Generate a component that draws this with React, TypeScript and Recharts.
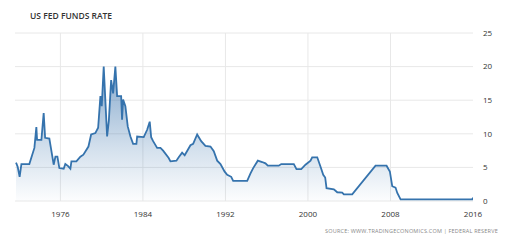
import { AreaChart, Area, XAxis, YAxis, CartesianGrid } from "recharts";

const years = [
  1971.7, 1971.86, 1972.05, 1972.22, 1972.99, 1973.48, 1973.67, 1973.74, 1974.16, 1974.38,
  1974.52, 1974.93, 1975.35, 1975.52, 1975.71, 1975.9, 1976.32, 1976.48, 1976.75, 1976.97,
  1977.07, 1977.55, 1977.94, 1978.23, 1978.72, 1978.98, 1979.39, 1979.66, 1979.88, 1980.01,
  1980.2, 1980.53, 1980.7, 1980.92, 1981.11, 1981.33, 1981.5, 1981.89, 1981.98, 1982.08,
  1982.3, 1982.53, 1982.79, 1983.05, 1983.37, 1983.44, 1984.08, 1984.41, 1984.66, 1984.8,
  1984.99, 1985.38, 1985.7, 1985.96, 1986.5, 1986.67, 1987.25, 1987.47, 1987.8, 1988.05,
  1988.61, 1988.87, 1989.26, 1989.65, 1990.06, 1990.55, 1990.87, 1991.2, 1991.52, 1991.91,
  1992.17, 1992.56, 1992.75, 1994.11, 1994.43, 1994.69, 1995.14, 1995.56, 1995.88, 1996.11,
  1997.17, 1997.41, 1998.63, 1998.89, 1999.35, 1999.76, 2000.25, 2000.41, 2000.9, 2001.22,
  2001.48, 2001.67, 2001.8, 2002.51, 2002.84, 2003.32, 2003.48, 2004.29, 2006.55, 2007.62,
  2007.94, 2008.17, 2008.49, 2008.66, 2008.98, 2015.93, 2016.0,
];

const rates = [
  5.7, 5.1, 3.6, 5.5, 5.5, 7.9, 11.0, 9.1, 9.1, 13.1,
  9.4, 9.3, 5.4, 6.6, 6.6, 4.9, 4.8, 5.5, 5.2, 4.8,
  5.9, 5.9, 6.6, 6.9, 8.1, 9.9, 10.1, 10.9, 15.6, 14.1,
  20.0, 9.6, 12.0, 18.0, 16.0, 20.0, 15.6, 15.6, 12.1, 15.1,
  14.1, 11.1, 9.6, 8.5, 8.5, 9.6, 9.5, 10.6, 11.8, 9.5,
  8.9, 7.9, 7.9, 7.5, 6.4, 5.9, 6.0, 6.5, 7.2, 6.8,
  8.3, 8.5, 9.9, 8.9, 8.2, 8.1, 7.4, 6.0, 5.5, 4.4,
  3.9, 3.6, 3.0, 3.0, 4.1, 4.9, 6.0, 5.8, 5.6, 5.25,
  5.25, 5.5, 5.5, 4.75, 4.75, 5.4, 6.0, 6.5, 6.5, 5.1,
  3.9, 3.5, 1.9, 1.75, 1.3, 1.25, 1.0, 1.0, 5.25, 5.25,
  4.4, 2.2, 2.0, 1.2, 0.25, 0.25, 0.5,
];

const xTicks = [1976, 1984, 1992, 2000, 2008, 2016];
const yTicks = [0, 5, 10, 15, 20, 25];

const data = years.map((year, i) => ({ year, rate: rates[i] }));

const font = "'Open Sans', 'DejaVu Sans', sans-serif";

export default function App() {
  return (
    <div style={{ position: "absolute", left: 0, top: 0, width: 510, height: 244, background: "#fff", fontFamily: font }}>
      <div style={{ position: "absolute", left: 30, top: 10, fontSize: 8.5, fontWeight: 600, color: "#333" }}>
        US FED FUNDS RATE
      </div>
      <AreaChart width={510} height={244} data={data} margin={{ top: 33, right: 7, bottom: 23, left: 15 }}>
        <defs>
          <linearGradient id="fill" x1="0" y1="0" x2="0" y2="1">
            <stop offset="0%" stopColor="#2a68a6" stopOpacity={0.95} />
            <stop offset="60%" stopColor="#2a68a6" stopOpacity={0.35} />
            <stop offset="100%" stopColor="#2a68a6" stopOpacity={0.02} />
          </linearGradient>
        </defs>
        <CartesianGrid stroke="#e8e8e8" strokeWidth={1} verticalValues={[1976, 1984, 1992, 2000, 2008]} />
        <XAxis
          dataKey="year"
          type="number"
          domain={[1971.6, 2016]}
          ticks={xTicks}
          axisLine={false}
          tickLine={false}
          height={20}
          tick={{ fontSize: 8, fill: "#333", fontFamily: font }}
          tickMargin={4}
          allowDataOverflow
        />
        <YAxis
          orientation="right"
          domain={[0, 25]}
          ticks={yTicks}
          axisLine={false}
          tickLine={false}
          width={30}
          tick={{ fontSize: 8, fill: "#333", fontFamily: font, textAnchor: "start" }}
          tickMargin={4}
        />
        <Area
          type="linear"
          dataKey="rate"
          stroke="#3573ad"
          strokeWidth={1.8}
          fill="url(#fill)"
          isAnimationActive={false}
          dot={false}
          activeDot={false}
        />
      </AreaChart>
      <div style={{ position: "absolute", left: 325, top: 227, fontSize: 5.5, color: "#888", letterSpacing: 0.2 }}>
        SOURCE: WWW.TRADINGECONOMICS.COM | FEDERAL RESERVE
      </div>
    </div>
  );
}
